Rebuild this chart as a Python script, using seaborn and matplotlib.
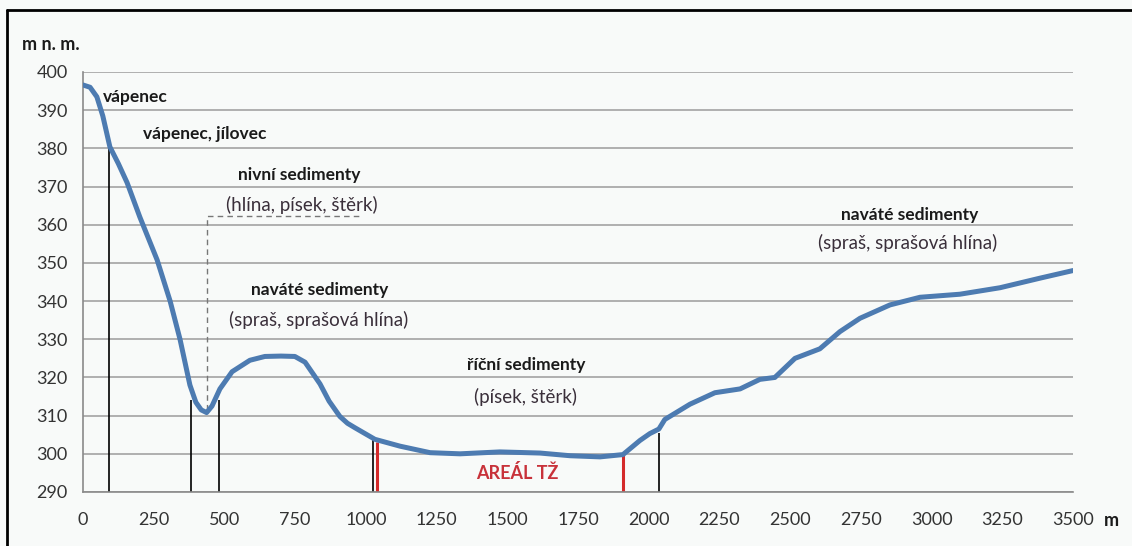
import matplotlib
matplotlib.use("Agg")
import matplotlib.pyplot as plt
from matplotlib.lines import Line2D
import seaborn as sns
import pandas as pd

# profile: distance (m) and elevation (m n. m.)
distance = [0, 25, 49, 70, 95, 125, 156, 201, 262, 308, 343, 378, 399, 418, 437, 456,
            484, 527, 590, 643, 700, 749, 785, 838, 870, 908, 935, 962, 1032, 1121,
            1227, 1333, 1474, 1616, 1722, 1828, 1909, 1969, 2004, 2036, 2057, 2146,
            2234, 2323, 2393, 2446, 2517, 2605, 2676, 2747, 2853, 2959, 3100, 3242,
            3383, 3500]
elevation = [396.6, 396, 393.5, 388.5, 380.4, 376, 371, 362, 350.8, 340, 330, 318,
             313.5, 311.5, 310.8, 312.5, 317, 321.5, 324.5, 325.5, 325.6, 325.5, 324,
             318.3, 313.8, 309.8, 308, 306.8, 303.8, 302, 300.3, 300, 300.5, 300.2,
             299.5, 299.2, 299.8, 303.5, 305.3, 306.5, 309, 313, 316, 317, 319.5, 320,
             325, 327.5, 332, 335.5, 339, 341, 341.8, 343.5, 346, 348]

# boundary markers: position (m), top elevation, colour
black_x = [92, 382, 481, 1024, 2036]
black_top = [380.4, 314.1, 314.2, 303.6, 305.5]
red_x = [1038, 1909]
red_top = [303.2, 299.7]

# dashed leader for floodplain sediments
leader_x = [438, 438, 986]
leader_y = [311.5, 362.3, 362.3]

labels = [
    ("vápenec", 71, 393.5, "left", "bold"),
    ("vápenec, jílovec", 212, 383.8, "left", "bold"),
    ("nivní sedimenty", 764, 373, "center", "bold"),
    ("(hlína, písek, štěrk)", 774, 365.2, "center", "normal"),
    ("naváté sedimenty", 836, 342.9, "center", "bold"),
    ("(spraš, sprašová hlína)", 832, 335, "center", "normal"),
    ("říční sedimenty", 1568, 323.3, "center", "bold"),
    ("(písek, štěrk)", 1566, 315, "center", "normal"),
    ("naváté sedimenty", 2922, 362.5, "center", "bold"),
    ("(spraš, sprašová hlína)", 2915, 355.1, "center", "normal"),
]

x_ticks = list(range(0, 3501, 250))
y_ticks = list(range(290, 401, 10))

sns.set_style("white")
plt.rcParams['font.family'] = ['Lato', 'DejaVu Sans']

fig = plt.figure(figsize=(11.32, 5.46), dpi=100, facecolor="#f8faf9")
ax = fig.add_axes([83 / 1132, 1 - 492 / 546, 990 / 1132, 420 / 546])
ax.set_facecolor("#f8faf9")

for y in y_ticks:
    ax.axhline(y, color="#a3a3a3", lw=1.2, zorder=1)

ax.vlines(black_x, 290, black_top, color="black", lw=1.2, zorder=2)
ax.vlines(red_x, 290, red_top, color="#d42a2a", lw=2.2, zorder=2)
ax.plot(leader_x, leader_y, color="#777777", lw=1.0, ls=(0, (4, 3)), zorder=2)

df = pd.DataFrame({"distance": distance, "elevation": elevation})
sns.lineplot(data=df, x="distance", y="elevation", ax=ax, color="#4d7bb1",
             lw=3.6, zorder=3, solid_capstyle="round", solid_joinstyle="round")

for text, x, y, ha, w in labels:
    ax.text(x, y, text, ha=ha, va="center", fontsize=12.5 if w == "bold" else 13.5,
            fontweight=w, color="#1a1a1a" if w == "bold" else "#3a2f3a", zorder=4)

ax.text(1536, 295, "AREÁL TŽ", ha="center", va="center", fontsize=13,
        fontweight="bold", color="#c8323a", zorder=4)

ax.set_xlim(0, 3500)
ax.set_ylim(290, 400)
ax.set_xticks(x_ticks)
ax.set_yticks(y_ticks)
ax.set_xlabel("")
ax.set_ylabel("")
ax.tick_params(axis="x", direction="inout", length=9, width=1.2, color="#8a8a8a",
               labelsize=13, labelcolor="#333333", pad=10)
ax.tick_params(axis="y", direction="out", length=4, width=1.2, color="#a3a3a3",
               labelsize=13, labelcolor="#333333", pad=7)
for side in ["top", "right"]:
    ax.spines[side].set_visible(False)
for side in ["left", "bottom"]:
    ax.spines[side].set_color("#8a8a8a")
    ax.spines[side].set_linewidth(1.2)

fig.text(22 / 1132, 1 - 45 / 546, "m n. m.", fontsize=13, fontweight="bold",
         color="#1a1a1a", va="center", ha="left")
fig.text(1104 / 1132, 1 - 521 / 546, "m", fontsize=13, fontweight="bold",
         color="#1a1a1a", va="center", ha="left")

# frame on left and top edges
fig.add_artist(Line2D([7 / 1132, 7 / 1132], [0, 1 - 10 / 546], color="black", lw=2,
                      transform=fig.transFigure))
fig.add_artist(Line2D([7 / 1132, 1], [1 - 10 / 546, 1 - 10 / 546], color="black", lw=2,
                      transform=fig.transFigure))

fig.savefig("out.png", dpi=100, facecolor=fig.get_facecolor())
